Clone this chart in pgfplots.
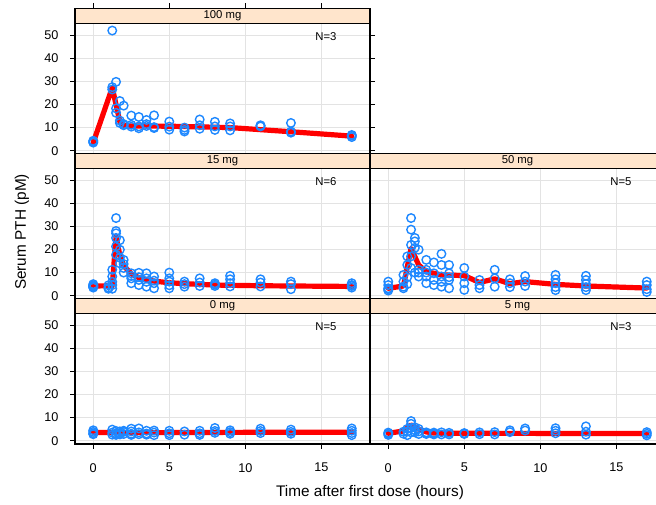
\documentclass[border=0pt]{standalone}
\usepackage{fontspec}
\setmainfont{Liberation Sans}
\usepackage{pgfplots}
\pgfplotsset{compat=1.18}
\definecolor{ptcol}{HTML}{1E88FF}
\definecolor{stripc}{HTML}{FFE5CC}
\definecolor{gridc}{HTML}{E3E3E3}
\pgfplotsset{
  panel/.style={
    scale only axis, width=221.25pt, height=97.875pt,
    xmin=-1.2, xmax=18.2, ymin=-1.43, ymax=55.06,
    xtick={0,5,10,15}, ytick={0,10,20,30,40,50},
    grid=major, major grid style={line width=1pt, color=gridc},
    axis line style={line width=0.8pt},
    tick style={line width=0.8pt, black},
    tick align=outside, major tick length=3.75pt,
    xticklabels={}, yticklabels={},
    xtick pos=bottom, ytick pos=left,
    clip=false, anchor=south west,
    /pgf/number format/assume math mode=true,
    every tick label/.append style={font=\fontsize{9.5}{10}\selectfont},
  },
  pts/.style={only marks, mark=o, mark size=3.2pt, color=ptcol, mark options={line width=1.05pt}},
  med/.style={red, line width=3.9pt, line join=round, line cap=round, no marks},
  noxt/.style={xtick style={draw=none}},
  noyt/.style={ytick style={draw=none}},
  ylab/.style={yticklabels={0,10,20,30,40,50}, yticklabel style={inner sep=0pt, xshift=-8.5pt}},
  xlab/.style={xticklabels={0,5,10,15}, xticklabel style={inner sep=0pt, yshift=-10.5pt}},
}
\newcommand{\strip}[1]{%
  \draw[fill=stripc, line width=0.8pt] (rel axis cs:0,1) rectangle ([yshift=11.25pt]rel axis cs:1,1);
  \node[font=\fontsize{8.5}{9}\selectfont, inner sep=0pt] at ([yshift=5.625pt]rel axis cs:0.5,1) {#1};}
\newcommand{\nlab}[1]{\node[font=\fontsize{8.5}{9}\selectfont, inner sep=0pt] at (axis cs:15.3,49.4) {#1};}
\begin{document}
\begin{tikzpicture}
% ---------- 100 mg ----------
\begin{axis}[panel, noxt, ylab, ytick pos=both, yticklabel pos=left, at={(56.25pt,263.25pt)}]
\addplot[pts] table {
0 3.5
0 4.3
0 3.8
1.25 52
1.25 27.5
1.25 26.5
1.5 29.8
1.5 18.3
1.5 16.4
1.75 21.5
1.75 13
1.75 12
2 19.5
2 11.5
2 11
2.5 15.2
2.5 10.4
2.5 11.2
3 14.6
3 9.7
3 10.5
3.5 13.3
3.5 10.7
3.5 11.5
4 15.3
4 9.8
4 10.2
5 12.6
5 9.1
5 10.4
6 10
6 8.3
6 9
7 13.5
7 9.5
7 11
8 12.5
8 9
8 10.5
9 11.8
9 8.8
9 10.5
11 11
11 10.5
11 10.8
13 12
13 7.8
13 8.3
17 6.8
17 5.9
17 6.5
};
\addplot[med] table {
0 3.5
1.25 27.3
1.75 12.5
2 11
2.5 10.7
5 10.6
9 10
13 8.2
17 6.3
};
\strip{100 mg}
\nlab{N=3}
\pgfplotsinvokeforeach{0,5,10,15}{\draw[line width=0.8pt] ([yshift=11.25pt]axis cs:#1,55.06) -- ([yshift=15pt]axis cs:#1,55.06);}
\end{axis}
% ---------- 15 mg ----------
\begin{axis}[panel, noxt, ylab, at={(56.25pt,154.5pt)}]
\addplot[pts] table {
0 3.5
0 4
0 4.5
0 5
0 4.2
0 3.8
1 3
1 3.5
1 4.5
1.25 11.2
1.25 8.3
1.25 6
1.25 4.6
1.25 3
1.5 33.6
1.5 28
1.5 27
1.5 25
1.5 21.3
1.5 17.7
1.75 24
1.75 19.9
1.75 16.4
1.75 14
2 15.5
2 13.7
2 12
2 10
2.5 9.7
2.5 7.5
2.5 5.4
2.5 8.5
3 9.9
3 6.8
3 4.6
3 8
3.5 9.7
3.5 7.5
3.5 3.9
3.5 6
4 8.3
4 5.4
4 3.2
4 6.5
5 10
5 7.5
5 6.1
5 3.2
5 4.5
6 6.1
6 3.9
6 5
7 7.5
7 5.7
7 4.2
8 5.4
8 4.2
8 4.8
9 8.6
9 7.1
9 5.4
9 4
11 7.1
11 5.7
11 4
13 6.1
13 5
13 2.8
17 5.4
17 4.2
17 3.5
17 4.6
};
\addplot[med] table {
0 4.2
1.25 4.3
1.5 25.5
1.75 17.5
2 13
2.5 9.5
3 7.8
3.5 6.9
4 6.3
5 5.6
6 5.2
7 4.9
8 4.6
9 4.5
11 4.3
13 4.2
17 4.0
};
\strip{15 mg}
\nlab{N=6}
\end{axis}
% ---------- 50 mg ----------
\begin{axis}[panel, noxt, noyt, at={(277.5pt,154.5pt)}]
\addplot[pts] table {
0 6.1
0 4.6
0 3.2
0 2.2
0 2.8
1 9
1 6.1
1 3.9
1 3.2
1.25 17
1.25 13.3
1.25 8
1.25 5
1.5 33.6
1.5 28.6
1.5 22
1.5 17
1.5 12
1.75 25
1.75 23.5
1.75 20.7
1.75 10
2 19.9
2 11.2
2 8.3
2 10
2.5 15.5
2.5 11.2
2.5 8.3
2.5 5.4
2.5 10
3 14.4
3 9.7
3 6.8
3 4.6
3.5 18.1
3.5 13.3
3.5 8.3
3.5 3.9
3.5 6
4 13.3
4 9.7
4 6.8
4 3.2
4 8
5 12
5 8.3
5 5.4
5 2.5
6 6.8
6 4.6
6 3.2
7 11.2
7 7.5
7 3.9
8 7.1
8 5.4
8 3.7
9 8.5
9 6.1
9 4.2
11 9
11 7.1
11 5.4
11 3.7
11 2.4
13 8.6
13 6.8
13 5.1
13 3.7
13 2.4
17 6.1
17 4.6
17 2.8
17 1.6
};
\addplot[med] table {
0 3.2
1 4.2
1.5 20.5
2 13.3
2.5 10.4
3.5 9
5 8.7
6 5.7
7 7.3
8 5.2
9 6.1
11 4.9
13 4.2
17 3.3
};
\strip{50 mg}
\nlab{N=5}
\end{axis}
% ---------- 0 mg ----------
\begin{axis}[panel, ylab, xlab, at={(56.25pt,45.75pt)}]
\addplot[pts] table {
0 4.5
0 3.8
0 3.2
0 2.8
1.25 4.8
1.25 3.5
1.25 2.6
1.5 4.2
1.5 3
1.5 2.5
1.75 4
1.75 3.2
1.75 2.7
2 3.8
2 2.9
2 4.3
2.5 5.2
2.5 4
2.5 3
2.5 2.5
3 5.3
3 3.6
3 2.8
3.5 4.3
3.5 3.1
3.5 2.6
4 4.4
4 3.5
4 2.4
5 4.3
5 3.2
5 2.4
6 4
6 2.6
7 4.3
7 3.2
7 2.5
8 5.5
8 4.2
8 3.4
9 4.5
9 3.7
9 3
11 5.2
11 4.2
11 3.3
13 4.8
13 3.8
13 3
17 5.3
17 4.3
17 3.3
17 2.4
};
\addplot[med] table {
0 3.6
2 3.5
5 3.5
9 3.6
17 3.7
};
\strip{0 mg}
\nlab{N=5}
\end{axis}
% ---------- 5 mg ----------
\begin{axis}[panel, noyt, xlab, at={(277.5pt,45.75pt)}]
\addplot[pts] table {
0 3.5
0 2.5
0 3
1 3.9
1 3
1.25 5.1
1.25 2.4
1.25 4
1.5 8.5
1.5 7.3
1.5 3.6
1.5 5.5
1.75 5.8
1.75 3.6
1.75 4.5
2 5.1
2 2.9
2 4
2.5 3.6
2.5 2.9
2.5 3.3
3 3.5
3 2.7
3 3.1
3.5 3.6
3.5 2.7
4 3.4
4 2.7
5 3.3
5 2.9
6 3.6
6 2.8
7 3.7
7 2.7
8 4.5
8 3.7
9 5.3
9 4.4
11 5.4
11 4.3
11 3.2
13 6.2
13 3.9
13 2.6
17 3.7
17 2.3
17 3
};
\addplot[med] table {
0 3.2
1 4.2
1.5 6.8
1.75 6
2 5
2.5 3.8
3 3.3
4 3.2
17 3.1
};
\strip{5 mg}
\nlab{N=3}
\end{axis}
\node[rotate=90, font=\fontsize{11.5}{13}\selectfont] at (16.5pt,204.75pt) {Serum PTH (pM)};
\node[font=\fontsize{11.5}{13}\selectfont] at (277.5pt,9pt) {Time after first dose (hours)};
\pgfresetboundingbox
\path[use as bounding box] (0,0) rectangle (492pt,378.75pt);
\end{tikzpicture}
\end{document}
